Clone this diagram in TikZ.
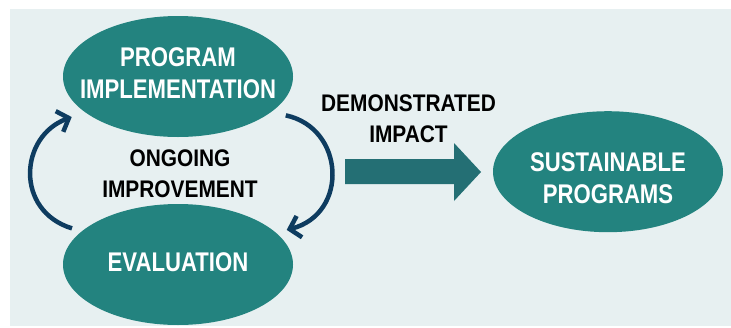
\documentclass[tikz,border=0pt]{standalone}
\usepackage{fontspec}
\usepackage{tikz}
\usetikzlibrary{shapes.geometric,arrows.meta}
\newfontfamily\ovalfont[FakeStretch=0.82]{Liberation Sans}
\newfontfamily\labelfont[FakeStretch=0.87]{Liberation Sans}
\definecolor{panelbg}{HTML}{E7F0F1}
\definecolor{ovalteal}{HTML}{23837F}
\definecolor{impactteal}{HTML}{246F74}
\definecolor{loopnavy}{HTML}{0E3C60}
\tikzset{stageoval/.style={ellipse,fill=ovalteal,minimum width=230pt,minimum height=121pt,inner sep=0pt},
ovaltext/.style={text=white,align=center,inner sep=0pt,font=\ovalfont\bfseries\fontsize{27}{32}\selectfont},
steplabel/.style={text=black,align=center,inner sep=0pt,font=\labelfont\bfseries\fontsize{24}{31}\selectfont},
cyclearrow/.style={loopnavy,line width=4.5pt,-{Straight Barb[length=10pt,width=22pt]}}}

\begin{document}
\begin{tikzpicture}[x=1pt,y=-1pt]
\useasboundingbox (0,0) rectangle (731,327);
\fill[panelbg] (10,9) rectangle (731,326);

\node[stageoval] (impl) at (178,76.5){};
\node[ovaltext] (impltext) at ([yshift=3.5pt]impl.center){PROGRAM\\IMPLEMENTATION};
\node[stageoval] (eval) at (178,264.5){};
\node[ovaltext] (evaltext) at ([yshift=2pt]eval.center){EVALUATION};
\node[stageoval] (sust) at (608,171.7){};
\node[ovaltext] (susttext) at ([yshift=-7pt]sust.center){SUSTAINABLE\\PROGRAMS};

\node[steplabel] (ongoing) at (180,174){ONGOING\\IMPROVEMENT};
\node[steplabel] (impact) at (408.5,118.5){DEMONSTRATED\\IMPACT};

% block arrow
\fill[impactteal] (345,159) -- (454,159) -- (454,143) -- (481,172) -- (454,201) -- (454,184) -- (345,184) -- cycle;

\draw[cyclearrow,shorten <=10pt,shorten >=14pt] (eval.161) to[out=163,in=200,looseness=1.5] (impl.201);
\draw[cyclearrow,shorten <=15pt,shorten >=11pt] (impl.339) to[out=-12,in=14.5,looseness=1.6] (eval.18);
\end{tikzpicture}
\end{document}
